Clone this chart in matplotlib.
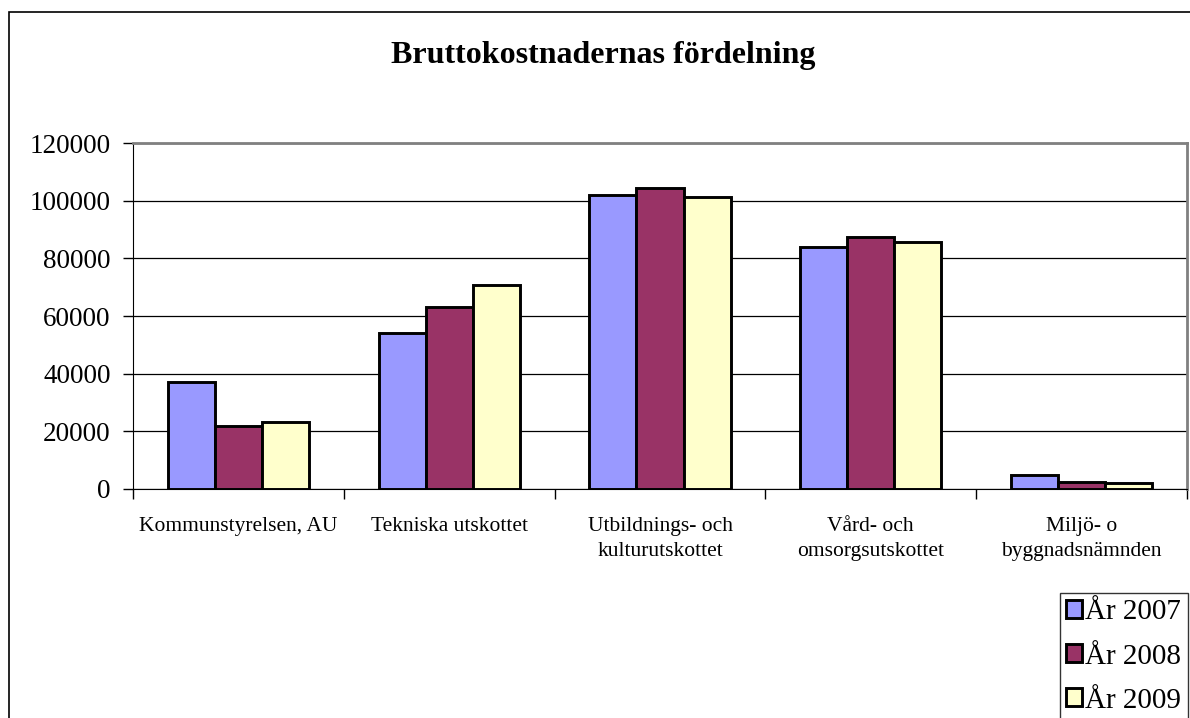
import numpy as np
import matplotlib.pyplot as plt
from matplotlib.patches import Rectangle

categories = ["Kommunstyrelsen, AU", "Tekniska utskottet",
              "Utbildnings- och\nkulturutskottet", "Vård- och\nomsorgsutskottet",
              "Miljö- o\nbyggnadsnämnden"]
years = ["År 2007", "År 2008", "År 2009"]
v2007 = [37000, 54000, 101800, 83800, 4700]
v2008 = [21800, 63000, 104300, 87500, 2300]
v2009 = [23400, 70900, 101400, 85500, 2000]
colors = ["#9999FF", "#993366", "#FFFFCC"]

plt.rcParams['font.family'] = ['Liberation Serif', 'DejaVu Serif']

fig = plt.figure(figsize=(11.9, 7.18), dpi=100)
fig.patches.append(Rectangle((9 / 1190, -0.1), 1.2, 1 - 12 / 718 + 0.1,
                             transform=fig.transFigure, fill=False,
                             edgecolor="black", linewidth=1.2))

ax = fig.add_axes([133 / 1190, 1 - 489 / 718, (1187 - 133) / 1190, (489 - 143) / 718])
x = np.arange(len(categories))
w = 0.223
for i, (vals, c, lab) in enumerate(zip([v2007, v2008, v2009], colors, years)):
    ax.bar(x + (i - 1) * w, vals, w, color=c, edgecolor="black",
           linewidth=2.1, label=lab, zorder=3)

ax.set_xlim(-0.5, len(categories) - 0.5)
ax.set_ylim(0, 120000)
ax.set_yticks(np.arange(0, 120001, 20000))
ax.tick_params(axis='y', labelsize=19.5, length=7, width=1, direction='out', pad=9)
ax.yaxis.grid(True, color="black", linewidth=0.9, zorder=0)
ax.set_xticks(np.arange(-0.5, len(categories), 1))
ax.set_xticklabels([])
ax.tick_params(axis='x', length=7, width=1, direction='out')
ax.set_xticks(x, minor=True)
ax.set_xticklabels(categories, minor=True, fontsize=15.5, linespacing=1.45, va='top')
ax.tick_params(axis='x', which='minor', length=0, pad=20)

ax.spines['left'].set_color("black")
ax.spines['bottom'].set_color("black")
ax.spines['top'].set_color("#808080")
ax.spines['right'].set_color("#808080")
ax.spines['top'].set_linewidth(2)
ax.spines['right'].set_linewidth(2)

fig.text(603 / 1190, 1 - 56 / 718, "Bruttokostnadernas fördelning",
         ha="center", va="center", fontsize=23, fontweight="bold")

leg = fig.legend(loc="upper left", bbox_to_anchor=(1060 / 1190, 1 - 593 / 718),
                 fontsize=21, frameon=True, fancybox=False, borderpad=0.22,
                 labelspacing=0.62, handlelength=0.55, handleheight=0.55,
                 handletextpad=0.1, borderaxespad=0)
leg.get_frame().set_edgecolor("black")
leg.get_frame().set_linewidth(1)

fig.savefig("out.png", dpi=100)
plt.close()
